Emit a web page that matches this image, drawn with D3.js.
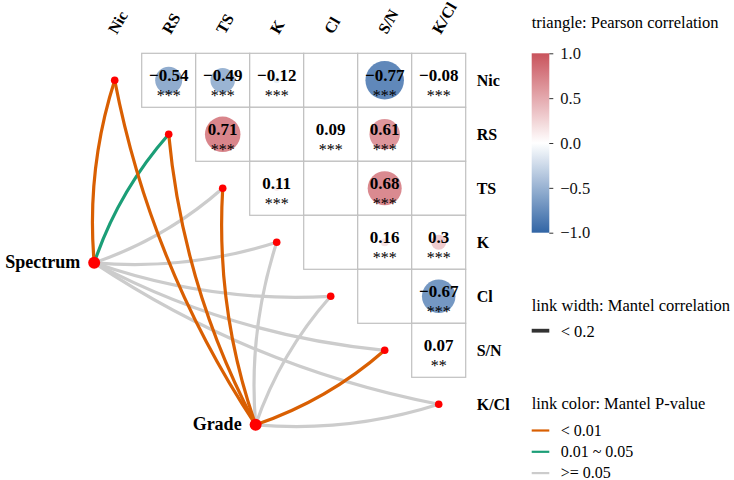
<!DOCTYPE html>
<html>
<head>
<meta charset="utf-8">
<script src="https://cdn.jsdelivr.net/npm/d3@7"></script>
<style>
  body { margin: 0; background: #fff; }
  text { font-family: "Liberation Serif", "Times New Roman", serif; }
</style>
</head>
<body>
<div id="chart"></div>
<script>
// variables of the correlation triangle
var vars = ["Nic", "RS", "TS", "K", "Cl", "S/N", "K/Cl"];

// Pearson r, upper triangle, null = not shown
var corrR = [
  [null, -0.54, -0.49, -0.12, null, -0.77, -0.08],
  [null, null, 0.71, null, 0.09, 0.61, null],
  [null, null, null, 0.11, null, 0.68, null],
  [null, null, null, null, null, 0.16, 0.3],
  [null, null, null, null, null, null, -0.67],
  [null, null, null, null, null, null, 0.07],
  [null, null, null, null, null, null, null]
];
var corrStars = [
  ["", "***", "***", "***", "", "***", "***"],
  ["", "", "***", "", "***", "***", ""],
  ["", "", "", "***", "", "***", ""],
  ["", "", "", "", "", "***", "***"],
  ["", "", "", "", "", "", "***"],
  ["", "", "", "", "", "", "**"],
  ["", "", "", "", "", "", ""]
];

// mantel part
var envs = ["Spectrum", "Grade"];
var envCol = [0.12, 3.11];   // grid units
var envRow = [3.88, 6.88];
// p-value class per env per variable: 0 "< 0.01", 1 "0.01 ~ 0.05", 2 ">= 0.05"
var mantelP = [
  [0, 1, 2, 2, 2, 2, 2],
  [0, 0, 0, 2, 2, 0, 2]
];
var pLabels = ["< 0.01", "0.01 ~ 0.05", ">= 0.05"];
var pColors = ["#d95f02", "#1b9e77", "#cccccc"];
var rLabels = ["< 0.2"];

var barTicks = [1, 0.5, 0, -0.5, -1];

var width = 734, height = 480;
var svg = d3.select("#chart").append("svg")
    .attr("width", width)
    .attr("height", height)
    .style("background", "#fff");

var cell = 54;
var x = d3.scaleLinear().domain([0, 7]).range([87.7, 87.7 + 7 * cell]);
var y = d3.scaleLinear().domain([0, 7]).range([53.3, 53.3 + 7 * cell]);

var fill = d3.scaleLinear()
    .domain([-1, 0, 1])
    .range(["#3165a5", "#ffffff", "#c9535c"]);
var rad = d3.scaleLinear().domain([0, 1]).range([0, 25]);

// cells
var cells = [];
corrR.forEach(function(row, i) {
  row.forEach(function(v, j) {
    if (j > i) cells.push({ i: i, j: j, v: v, s: corrStars[i][j] });
  });
});

var g = svg.append("g");
g.selectAll("rect.cell")
  .data(cells)
  .enter()
  .append("rect")
    .attr("class", "cell")
    .attr("x", function(d) { return x(d.j); })
    .attr("y", function(d) { return y(d.i); })
    .attr("width", x(1) - x(0))
    .attr("height", y(1) - y(0))
    .style("fill", "#fff")
    .style("stroke", "#c0c0c0")
    .style("stroke-width", 1.2);

var shown = cells.filter(function(d) { return d.v !== null; });

g.selectAll("circle.corr")
  .data(shown)
  .enter()
  .append("circle")
    .attr("class", "corr")
    .attr("cx", function(d) { return x(d.j + 0.5); })
    .attr("cy", function(d) { return y(d.i + 0.5); })
    .attr("r", function(d) { return rad(Math.abs(d.v)); })
    .style("fill", function(d) { return fill(d.v); });

g.selectAll("text.val")
  .data(shown)
  .enter()
  .append("text")
    .attr("class", "val")
    .attr("x", function(d) { return x(d.j + 0.5); })
    .attr("y", function(d) { return y(d.i) + 28; })
    .attr("text-anchor", "middle")
    .style("font-size", "17px")
    .style("font-weight", "bold")
    .text(function(d) { return String(d.v).replace("-", "\u2212"); });

g.selectAll("text.star")
  .data(shown)
  .enter()
  .append("text")
    .attr("class", "star")
    .attr("x", function(d) { return x(d.j + 0.5); })
    .attr("y", function(d) { return y(d.i) + 47.5; })
    .attr("text-anchor", "middle")
    .style("font-size", "16px")
    .text(function(d) { return d.s; });

// row labels
svg.selectAll("text.rowlab")
  .data(vars)
  .enter()
  .append("text")
    .attr("class", "rowlab")
    .attr("x", x(7) + 11)
    .attr("y", function(d, i) { return y(i + 0.5) + 6; })
    .style("font-size", "16px")
    .style("font-weight", "bold")
    .text(function(d) { return d; });

// column labels
svg.selectAll("text.collab")
  .data(vars)
  .enter()
  .append("text")
    .attr("class", "collab")
    .attr("transform", function(d, i) {
      return "translate(" + (x(i + 0.5) + 2) + ",35) rotate(-60)";
    })
    .style("font-size", "16px")
    .style("font-weight", "bold")
    .text(function(d) { return d; });

// mantel links
var links = [];
envs.forEach(function(e, k) {
  vars.forEach(function(v, j) {
    links.push({ env: k, v: j, p: mantelP[k][j] });
  });
});

function curve(d) {
  var x0 = x(envCol[d.env]), y0 = y(envRow[d.env]);
  var x1 = x(d.v + 0.5), y1 = y(d.v + 0.5);
  var dx = x1 - x0, dy = y1 - y0;
  var k = 0.1;
  var cx, cy;
  if (Math.abs(dy) > Math.abs(dx)) {
    cx = (x0 + x1) / 2 + k * dy;
    cy = (y0 + y1) / 2 - k * dx;
  } else {
    cx = (x0 + x1) / 2 - k * dy;
    cy = (y0 + y1) / 2 + k * dx;
  }
  var p = d3.path();
  p.moveTo(x0, y0);
  p.quadraticCurveTo(cx, cy, x1, y1);
  return p.toString();
}

// grey first, coloured on top
links.sort(function(a, b) { return b.p - a.p; });

svg.append("g").selectAll("path")
  .data(links)
  .enter()
  .append("path")
    .attr("d", curve)
    .style("fill", "none")
    .style("stroke", function(d) { return pColors[d.p]; })
    .style("stroke-width", 3.2);

// nodes
svg.append("g").selectAll("circle")
  .data(vars)
  .enter()
  .append("circle")
    .attr("cx", function(d, i) { return x(i + 0.5); })
    .attr("cy", function(d, i) { return y(i + 0.5); })
    .attr("r", 3.8)
    .style("fill", "#ff0000");

svg.append("g").selectAll("circle")
  .data(envs)
  .enter()
  .append("circle")
    .attr("cx", function(d, i) { return x(envCol[i]); })
    .attr("cy", function(d, i) { return y(envRow[i]); })
    .attr("r", 6)
    .style("fill", "#ff0000");

svg.append("g").selectAll("text")
  .data(envs)
  .enter()
  .append("text")
    .attr("x", function(d, i) { return x(envCol[i]) - 14; })
    .attr("y", function(d, i) { return y(envRow[i]) + 5; })
    .attr("text-anchor", "end")
    .style("font-size", "18px")
    .style("font-weight", "bold")
    .text(function(d) { return d; });

// colour bar legend
var legX = 531.7;
svg.append("text")
  .attr("x", legX)
  .attr("y", 28)
  .style("font-size", "16.5px")
  .text("triangle: Pearson correlation");

var barScale = d3.scaleLinear().domain([1, -1]).range([53.3, 232.7]);
var grad = svg.append("defs").append("linearGradient")
    .attr("id", "cbar")
    .attr("x1", 0).attr("y1", 0).attr("x2", 0).attr("y2", 1);
d3.range(0, 21).forEach(function(i) {
  var v = 1 - i / 10;
  grad.append("stop")
    .attr("offset", (i / 20 * 100) + "%")
    .attr("stop-color", fill(v));
});
svg.append("rect")
  .attr("x", legX)
  .attr("y", barScale(1))
  .attr("width", 17.6)
  .attr("height", barScale(-1) - barScale(1))
  .style("fill", "url(#cbar)");

var barAxis = svg.append("g")
  .attr("transform", "translate(" + (legX + 17.6) + ",0)")
  .call(d3.axisRight(barScale)
    .tickValues(barTicks)
    .tickSize(4)
    .tickPadding(7)
    .tickFormat(d3.format(".1f")));
barAxis.select(".domain").remove();
barAxis.selectAll("line").style("stroke", "#333");
barAxis.selectAll("text")
  .style("font-family", "'Liberation Serif', 'Times New Roman', serif")
  .style("font-size", "16.5px")
  .style("fill", "#111");

// link width legend
svg.append("text")
  .attr("x", legX)
  .attr("y", 310.5)
  .style("font-size", "16.5px")
  .text("link width: Mantel correlation");

svg.selectAll("line.rleg")
  .data(rLabels)
  .enter()
  .append("line")
    .attr("class", "rleg")
    .attr("x1", legX).attr("x2", legX + 17.6)
    .attr("y1", 330.7).attr("y2", 330.7)
    .style("stroke", "#333")
    .style("stroke-width", 3.8);
svg.selectAll("text.rleg")
  .data(rLabels)
  .enter()
  .append("text")
    .attr("class", "rleg")
    .attr("x", legX + 29)
    .attr("y", 336.5)
    .style("font-size", "16.5px")
    .text(function(d) { return d; });

// link colour legend
svg.append("text")
  .attr("x", legX)
  .attr("y", 409)
  .style("font-size", "16.5px")
  .text("link color: Mantel P-value");

var pl = d3.scaleLinear().domain([0, 1]).range([430.5, 451.8]);
svg.selectAll("line.pleg")
  .data(pLabels)
  .enter()
  .append("line")
    .attr("class", "pleg")
    .attr("x1", legX).attr("x2", legX + 17.6)
    .attr("y1", function(d, i) { return pl(i); })
    .attr("y2", function(d, i) { return pl(i); })
    .style("stroke", function(d, i) { return pColors[i]; })
    .style("stroke-width", 2.2);
svg.selectAll("text.pleg")
  .data(pLabels)
  .enter()
  .append("text")
    .attr("class", "pleg")
    .attr("x", legX + 29)
    .attr("y", function(d, i) { return pl(i) + 5; })
    .style("font-size", "16px")
    .text(function(d) { return d; });
</script>
</body>
</html>
